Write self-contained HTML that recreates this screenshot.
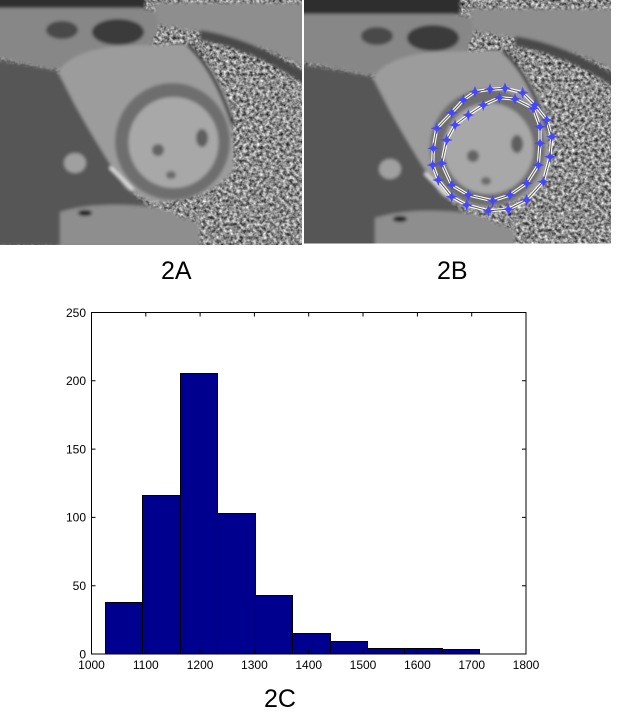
<!DOCTYPE html>
<html><head><meta charset="utf-8"><style>
html,body{margin:0;padding:0;background:#fff;}
svg{display:block;}
text{font-family:"Liberation Sans",Arial,sans-serif;}
</style></head><body>
<svg width="618" height="722" viewBox="0 0 618 722" xmlns="http://www.w3.org/2000/svg" xmlns:xlink="http://www.w3.org/1999/xlink">
<rect width="618" height="722" fill="#fff"/>
<defs>
<filter id="nz" x="-30" y="-20" width="360" height="290" filterUnits="userSpaceOnUse" color-interpolation-filters="sRGB">
<feTurbulence type="fractalNoise" baseFrequency="0.3" numOctaves="2" seed="7"/>
<feColorMatrix type="matrix" values="1.2 0 0 0 -0.05 1.2 0 0 0 -0.05 1.2 0 0 0 -0.05 0 0 0 0 1"/>
</filter>
<filter id="bl" x="-30" y="-20" width="360" height="290" filterUnits="userSpaceOnUse"><feGaussianBlur stdDeviation="1.5"/></filter>
<clipPath id="cl"><rect x="0" y="0" width="302" height="245"/></clipPath>
<clipPath id="cr"><rect x="304" y="0" width="307" height="243.5"/></clipPath>
<g id="mri">
<rect x="-30" y="-20" width="360" height="290" fill="#888" filter="url(#nz)"/>
<g filter="url(#bl)">
<rect x="-30" y="-20" width="175" height="28" fill="#2e2e2e"/>
<path d="M-30,8 L140,8 L165,14 L150,46 L100,50 L58,70 L-30,52 Z" fill="#878787"/>
<ellipse cx="62" cy="30" rx="16" ry="9" fill="#4a4a4a"/>
<ellipse cx="118" cy="32" rx="26" ry="13" fill="#3a3a3a"/>
<path d="M155,3 L305,3 L305,68 Q260,42 205,33 Q178,28 158,24 Z" fill="#8e8e8e"/>
<path d="M200,35 Q255,44 310,82" stroke="#4a4a4a" stroke-width="10" fill="none"/>
<path d="M-30,55 L55,70 L80,95 L110,160 L135,195 L160,215 L150,228 L100,236 L60,246 L-30,246 Z" fill="#565656"/>
<ellipse cx="75" cy="163" rx="11" ry="10" fill="#a0a0a0"/>
<path d="M58,72 Q72,50 120,46 L185,44 Q212,58 232,110 L234,170 Q205,205 150,202 L126,188 Q100,150 75,105 Z" fill="#9c9c9c"/>
<ellipse cx="172.5" cy="141.5" rx="57.5" ry="58.5" fill="#6e6e6e"/>
<ellipse cx="173.5" cy="142.5" rx="45" ry="45.5" fill="#a8a8a8"/>
<ellipse cx="158" cy="150" rx="6" ry="6" fill="#636363"/>
<ellipse cx="202" cy="138" rx="6" ry="9" fill="#5e5e5e"/>
<ellipse cx="171" cy="175" rx="5" ry="4" fill="#6a6a6a"/>
<path d="M110,167 L133,190" stroke="#e6e6e6" stroke-width="3"/>
<path d="M188,45 Q215,70 233,125" stroke="#1e1e1e" stroke-width="3" fill="none"/>
<path d="M60,212 Q100,200 160,208 L200,225 L200,250 L60,250 Z" fill="#8e8e8e"/>
<ellipse cx="85" cy="213" rx="7" ry="3" fill="#1a1a1a"/>
</g>
</g>
<g id="st"><path d="M0,-6 L1.5,-1.5 L6,0 L1.5,1.5 L0,6 L-1.5,1.5 L-6,0 L-1.5,-1.5 Z" fill="#4646ff"/><circle r="2.6" fill="#4646ff"/></g>
</defs>

<g clip-path="url(#cl)"><use xlink:href="#mri" href="#mri"/></g>
<g clip-path="url(#cr)"><use xlink:href="#mri" href="#mri" transform="translate(315,6)"/></g>

<!-- contours -->
<g fill="none" stroke-linejoin="round">
<polygon points="475,91.7 490,89.3 505,88.3 522.7,92.7 535,105 546.7,120 551.7,136.7 550,156.7 543.3,181.7 526.7,200 508.3,209.3 488.3,210.7 466.7,205 451.7,196.7 438.3,180 432.7,165 433.3,148.3 436.7,128.3 451.7,112.7 463.3,100" stroke="#fff" stroke-width="3.2"/>
<polygon points="475,91.7 490,89.3 505,88.3 522.7,92.7 535,105 546.7,120 551.7,136.7 550,156.7 543.3,181.7 526.7,200 508.3,209.3 488.3,210.7 466.7,205 451.7,196.7 438.3,180 432.7,165 433.3,148.3 436.7,128.3 451.7,112.7 463.3,100" stroke="#555" stroke-width="1"/>
<polygon points="499.3,97.7 515,99 533.3,108.3 540,126.7 540,143.3 538.3,165 526.7,183.3 510,195 492.7,200.7 468.3,195 451.7,185 441.7,163.3 446.7,140 455,125 468.3,115 483.3,105" stroke="#fff" stroke-width="3.2"/>
<polygon points="499.3,97.7 515,99 533.3,108.3 540,126.7 540,143.3 538.3,165 526.7,183.3 510,195 492.7,200.7 468.3,195 451.7,185 441.7,163.3 446.7,140 455,125 468.3,115 483.3,105" stroke="#555" stroke-width="1"/>
</g>
<g>
<use href="#st" xlink:href="#st" x="475" y="91.7"/><use href="#st" xlink:href="#st" x="490" y="89.3"/><use href="#st" xlink:href="#st" x="505" y="88.3"/><use href="#st" xlink:href="#st" x="522.7" y="92.7"/><use href="#st" xlink:href="#st" x="535" y="105"/><use href="#st" xlink:href="#st" x="546.7" y="120"/><use href="#st" xlink:href="#st" x="551.7" y="136.7"/><use href="#st" xlink:href="#st" x="550" y="156.7"/><use href="#st" xlink:href="#st" x="543.3" y="181.7"/><use href="#st" xlink:href="#st" x="526.7" y="200"/><use href="#st" xlink:href="#st" x="508.3" y="209.3"/><use href="#st" xlink:href="#st" x="488.3" y="210.7"/><use href="#st" xlink:href="#st" x="466.7" y="205"/><use href="#st" xlink:href="#st" x="451.7" y="196.7"/><use href="#st" xlink:href="#st" x="438.3" y="180"/><use href="#st" xlink:href="#st" x="432.7" y="165"/><use href="#st" xlink:href="#st" x="433.3" y="148.3"/><use href="#st" xlink:href="#st" x="436.7" y="128.3"/><use href="#st" xlink:href="#st" x="451.7" y="112.7"/><use href="#st" xlink:href="#st" x="463.3" y="100"/>
<use href="#st" xlink:href="#st" x="499.3" y="97.7"/><use href="#st" xlink:href="#st" x="515" y="99"/><use href="#st" xlink:href="#st" x="533.3" y="108.3"/><use href="#st" xlink:href="#st" x="540" y="126.7"/><use href="#st" xlink:href="#st" x="540" y="143.3"/><use href="#st" xlink:href="#st" x="538.3" y="165"/><use href="#st" xlink:href="#st" x="526.7" y="183.3"/><use href="#st" xlink:href="#st" x="510" y="195"/><use href="#st" xlink:href="#st" x="492.7" y="200.7"/><use href="#st" xlink:href="#st" x="468.3" y="195"/><use href="#st" xlink:href="#st" x="451.7" y="185"/><use href="#st" xlink:href="#st" x="441.7" y="163.3"/><use href="#st" xlink:href="#st" x="446.7" y="140"/><use href="#st" xlink:href="#st" x="455" y="125"/><use href="#st" xlink:href="#st" x="468.3" y="115"/><use href="#st" xlink:href="#st" x="483.3" y="105"/>
</g>

<!-- captions -->
<text x="161" y="279" font-size="25" fill="#000">2A</text>
<text x="437" y="279" font-size="25" fill="#000">2B</text>
<text x="264" y="707" font-size="25" fill="#000">2C</text>

<!-- histogram -->
<g fill="#00008F" stroke="#000" stroke-width="1">
<rect x="105.5" y="602.5" width="37" height="51.5"/>
<rect x="142.5" y="495.5" width="38" height="158.5"/>
<rect x="180.5" y="373.5" width="37" height="280.5"/>
<rect x="217.5" y="513.5" width="38" height="140.5"/>
<rect x="255.5" y="595.5" width="37" height="58.5"/>
<rect x="292.5" y="633.5" width="38" height="20.5"/>
<rect x="330.5" y="641.5" width="37" height="12.5"/>
<rect x="367.5" y="648.5" width="37" height="5.5"/>
<rect x="404.5" y="648.5" width="38" height="5.5"/>
<rect x="442.5" y="649.5" width="37" height="4.5"/>
</g>
<rect x="91.5" y="312.5" width="434.5" height="341.5" fill="none" stroke="#000" stroke-width="1"/>
<g stroke="#000" stroke-width="1">
<path d="M145.8,654V650M200.1,654V650M254.4,654V650M308.7,654V650M363,654V650M417.4,654V650M471.7,654V650"/>
<path d="M145.8,312.5V316.5M200.1,312.5V316.5M254.4,312.5V316.5M308.7,312.5V316.5M363,312.5V316.5M417.4,312.5V316.5M471.7,312.5V316.5"/>
<path d="M91.5,585.7H95.5M91.5,517.4H95.5M91.5,449.1H95.5M91.5,380.8H95.5"/>
<path d="M526,585.7H522M526,517.4H522M526,449.1H522M526,380.8H522"/>
</g>
<g font-size="12" fill="#000" text-anchor="middle">
<text x="91.5" y="669">1000</text>
<text x="145.8" y="669">1100</text>
<text x="200.1" y="669">1200</text>
<text x="254.4" y="669">1300</text>
<text x="308.7" y="669">1400</text>
<text x="363" y="669">1500</text>
<text x="417.4" y="669">1600</text>
<text x="471.7" y="669">1700</text>
<text x="526" y="669">1800</text>
</g>
<g font-size="12" fill="#000" text-anchor="end">
<text x="86" y="658.3">0</text>
<text x="86" y="590">50</text>
<text x="86" y="521.7">100</text>
<text x="86" y="453.4">150</text>
<text x="86" y="385.1">200</text>
<text x="86" y="316.8">250</text>
</g>
</svg>
</body></html>
